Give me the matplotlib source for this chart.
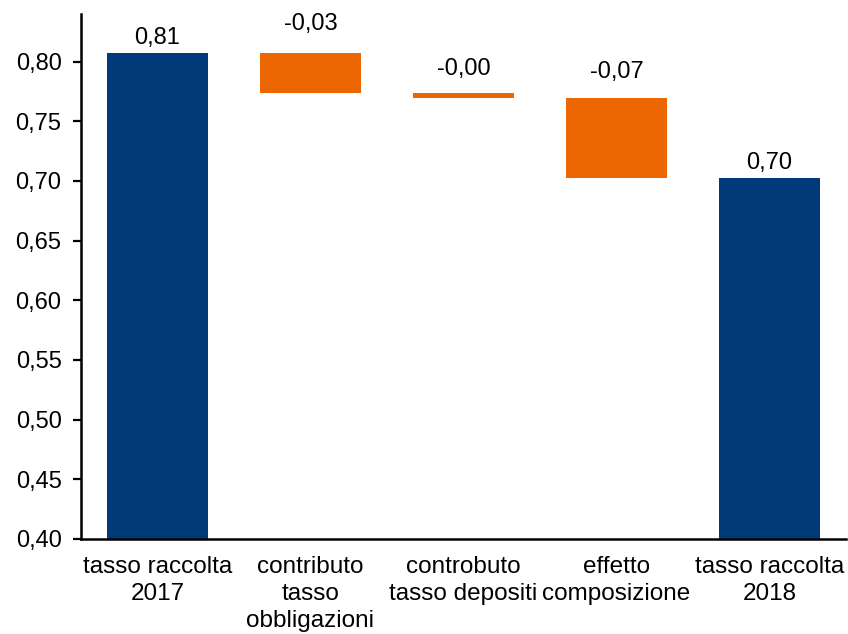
import matplotlib
matplotlib.use("Agg")
import matplotlib.pyplot as plt

plt.rcParams['font.family'] = ['Liberation Sans', 'DejaVu Sans']

# dati del grafico a cascata
categorie = ["tasso raccolta\n2017", "contributo\ntasso\nobbligazioni",
             "controbuto\ntasso depositi", "effetto\ncomposizione",
             "tasso raccolta\n2018"]
tasso_2017 = 0.807
contributi = [-0.033, -0.0044, -0.067]
tasso_2018 = 0.7026
etichette = ["0,81", "-0,03", "-0,00", "-0,07", "0,70"]

blu = '#003A78'
arancio = '#EC6602'

# basi e altezze delle barre
basi = [0.0]
altezze = [tasso_2017]
colori = [blu]
livello = tasso_2017
for c in contributi:
    basi.append(livello + c)
    altezze.append(-c)
    colori.append(arancio)
    livello += c
basi.append(0.0)
altezze.append(tasso_2018)
colori.append(blu)

fig = plt.figure(figsize=(8.48, 6.34), dpi=100)
ax = fig.add_axes([0.0955, 0.150, 0.902, 0.828])

x = list(range(len(categorie)))
ax.bar(x, altezze, bottom=basi, width=0.66, color=colori, zorder=2)

# etichette dei valori sopra le barre
distanze = [3, 13.5, 9, 10.5, 3]
for xi, b, h, testo, d in zip(x, basi, altezze, etichette, distanze):
    ax.annotate(testo, (xi, b + h), xytext=(0, d), textcoords='offset points',
                ha='center', va='bottom', fontsize=17, color='black')

ax.set_ylim(0.40, 0.84)
ax.set_xlim(-0.5, 4.5)
ax.set_yticks([0.40, 0.45, 0.50, 0.55, 0.60, 0.65, 0.70, 0.75, 0.80])
ax.set_yticklabels([f"{v:.2f}".replace('.', ',') for v in ax.get_yticks()])
ax.set_xticks(x)
ax.set_xticklabels(categorie, fontsize=17.5, linespacing=1.3)

for lato in ['top', 'right']:
    ax.spines[lato].set_visible(False)
for lato in ['left', 'bottom']:
    ax.spines[lato].set_linewidth(1.8)

ax.tick_params(axis='y', length=6, width=1.6, pad=8, labelsize=17, direction='out')
ax.tick_params(axis='x', length=0, pad=12)

fig.savefig("out.png", dpi=100)
